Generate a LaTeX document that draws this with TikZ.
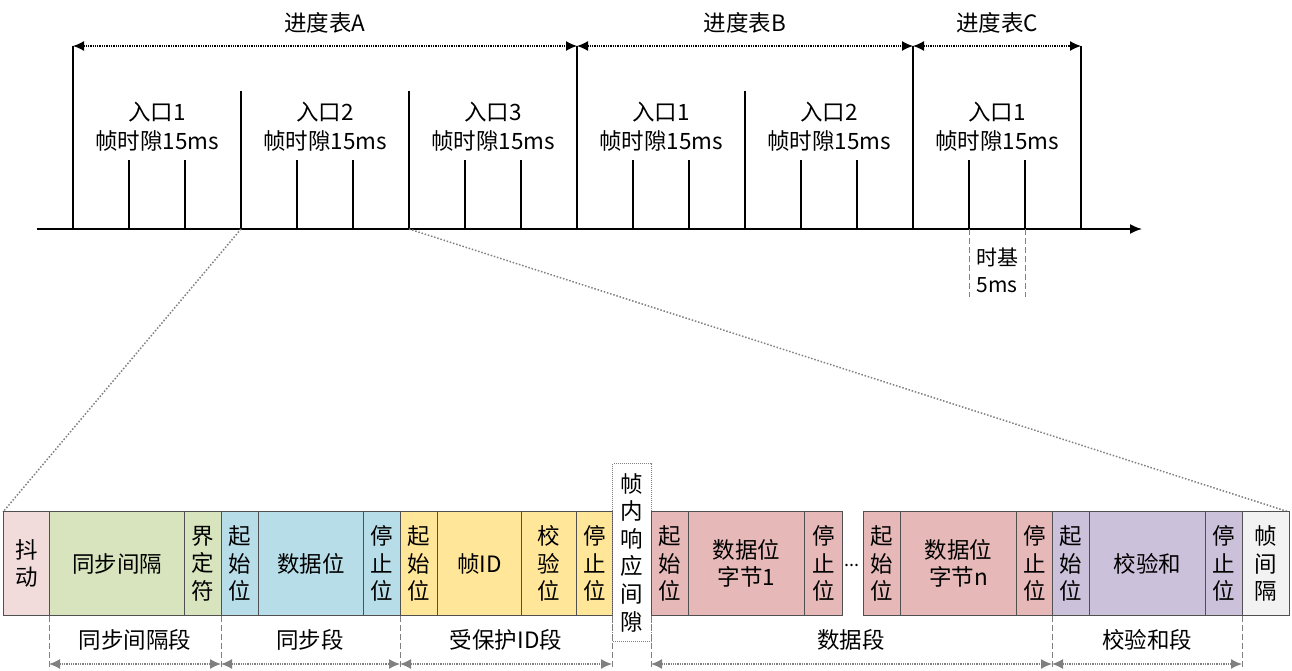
\documentclass[tikz,border=0pt]{standalone}
\usepackage{fontspec}
\setmainfont{Noto Sans CJK SC}
\usetikzlibrary{arrows.meta}
\definecolor{cpink}{HTML}{F2DCDB}
\definecolor{cgreen}{HTML}{D7E4BD}
\definecolor{cblue}{HTML}{B7DEE8}
\definecolor{cyellow}{HTML}{FFE699}
\definecolor{cred}{HTML}{E6B9B8}
\definecolor{cpurple}{HTML}{CCC1DA}
\definecolor{cgray}{HTML}{F2F2F2}
\definecolor{cborder}{HTML}{505050}
\definecolor{gline}{HTML}{808080}
\begin{document}
\begin{tikzpicture}[x=1pt,y=-1pt,
  txt/.style={font=\fontsize{22.5}{29}\selectfont, align=center, inner sep=0pt},
  cell/.style={draw=cborder, line width=1.2pt, minimum height=104pt, inner sep=0pt, anchor=west,
    font=\fontsize{22.5}{27.6}\selectfont, align=center},
  axisline/.style={line width=1.8pt, -{Latex[length=12pt,width=10pt]}},
  tick/.style={line width=1.5pt},
  toparrow/.style={line width=1.3pt, densely dotted, {Latex[length=11pt,width=10pt]}-{Latex[length=11pt,width=10pt]}},
  botarrow/.style={line width=1.3pt, gline, densely dotted, {Latex[length=11pt,width=10pt,fill=gline]}-{Latex[length=11pt,width=10pt,fill=gline]}},
  vdash/.style={gline, line width=1pt, dash pattern=on 6pt off 3pt},
  zoomline/.style={gline, line width=1.5pt, dash pattern=on 1.5pt off 1.8pt}
]
\useasboundingbox (0,0) rectangle (1292,671);

% ---------- top time line ----------
\coordinate (ax0) at (37,229);
\coordinate (ax1) at (1142,229);
\draw[axisline] (ax0) -- (ax1);

\foreach \k in {0,...,18}{
  \pgfmathtruncatemacro{\xx}{73+56*\k}
  \coordinate (b\k) at (\xx,229);
  \coordinate (ts\k) at (\xx,160);
  \coordinate (tm\k) at (\xx,91);
  \coordinate (tt\k) at (\xx,46);
}
\foreach \k in {1,2,4,5,7,8,10,11,13,14,16,17}{ \draw[tick] (b\k) -- (ts\k); }
\foreach \k in {3,6,12}{ \draw[tick] (b\k) -- (tm\k); }
\foreach \k in {0,9,15,18}{ \draw[tick] (b\k) -- (tt\k); }

\draw[toparrow] (tt0) -- (tt9);
\draw[toparrow] (tt9) -- (tt15);
\draw[toparrow] (tt15) -- (tt18);
\node[txt] (schA) at (325,23) {进度表A};
\node[txt] (schB) at (745,23) {进度表B};
\node[txt] (schC) at (997,23) {进度表C};

\node[txt] (s1) at (157,127) {入口1\\帧时隙15ms};
\node[txt] (s2) at (325,127) {入口2\\帧时隙15ms};
\node[txt] (s3) at (493,127) {入口3\\帧时隙15ms};
\node[txt] (s4) at (661,127) {入口1\\帧时隙15ms};
\node[txt] (s5) at (829,127) {入口2\\帧时隙15ms};
\node[txt] (s6) at (997,127) {入口1\\帧时隙15ms};

\coordinate (tb1) at (969,297);
\coordinate (tb2) at (1025,297);
\draw[vdash] (b16) -- (tb1);
\draw[vdash] (b17) -- (tb2);
\node[txt, font=\fontsize{21}{27}\selectfont] (tb) at (997,270) {时基\\5ms};

% ---------- zoom lines ----------
\coordinate (zl) at (3,512);
\coordinate (zr) at (1289,512);
\draw[zoomline] (b3) -- (zl);
\draw[zoomline] (b6) -- (zr);

% ---------- frame cells ----------
\node[cell, fill=cpink,   minimum width=46pt]  (c1)  at (3,563.5)   {抖\\动};
\node[cell, fill=cgreen,  minimum width=135pt] (c2)  at (49,563.5)  {同步间隔};
\node[cell, fill=cgreen,  minimum width=37pt]  (c3)  at (184,563.5) {界\\定\\符};
\node[cell, fill=cblue,   minimum width=37pt]  (c4)  at (221,563.5) {起\\始\\位};
\node[cell, fill=cblue,   minimum width=105pt] (c5)  at (258,563.5) {数据位};
\node[cell, fill=cblue,   minimum width=37pt]  (c6)  at (363,563.5) {停\\止\\位};
\node[cell, fill=cyellow, minimum width=37pt]  (c7)  at (400,563.5) {起\\始\\位};
\node[cell, fill=cyellow, minimum width=84pt]  (c8)  at (437,563.5) {帧ID};
\node[cell, fill=cyellow, minimum width=55pt]  (c9)  at (521,563.5) {校\\验\\位};
\node[cell, fill=cyellow, minimum width=36pt]  (c10) at (576,563.5) {停\\止\\位};
\node[draw=gline, densely dotted, line width=1pt, minimum width=39pt, minimum height=178pt,
      anchor=north west, inner sep=0pt, align=center, font=\fontsize{22.5}{27.6}\selectfont]
      (gap) at (612,463) {帧\\内\\响\\应\\间\\隙};
\node[cell, fill=cred,    minimum width=37pt]  (c11) at (651,563.5) {起\\始\\位};
\node[cell, fill=cred,    minimum width=116pt] (c12) at (688,563.5) {数据位\\字节1};
\node[cell, fill=cred,    minimum width=37.5pt](c13) at (804,563.5) {停\\止\\位};
\node[font=\fontsize{18}{20}\selectfont, inner sep=0pt] (dots) at (852,565) {...};
\node[cell, fill=cred,    minimum width=37pt]  (c14) at (862.5,563.5) {起\\始\\位};
\node[cell, fill=cred,    minimum width=116.5pt](c15) at (899.5,563.5) {数据位\\字节n};
\node[cell, fill=cred,    minimum width=36pt]  (c16) at (1016,563.5) {停\\止\\位};
\node[cell, fill=cpurple, minimum width=37pt]  (c17) at (1052,563.5) {起\\始\\位};
\node[cell, fill=cpurple, minimum width=116pt] (c18) at (1089,563.5) {校验和};
\node[cell, fill=cpurple, minimum width=37pt]  (c19) at (1205,563.5) {停\\止\\位};
\node[cell, fill=cgray,   minimum width=47pt]  (c20) at (1242,563.5) {帧\\间\\隔};

% ---------- segment markers ----------
\foreach \n/\xx in {d1/49,d2/221,d3/400,d4/612,d5/651,d6/1052,d7/1242}{
  \coordinate (\n t) at (\xx,616);
  \coordinate (\n b) at (\xx,668);
  \coordinate (\n a) at (\xx,664);
  \draw[vdash] (\n t) -- (\n b);
}
\draw[botarrow] (d1a) -- (d2a);
\draw[botarrow] (d2a) -- (d3a);
\draw[botarrow] (d3a) -- (d4a);
\draw[botarrow] (d5a) -- (d6a);
\draw[botarrow] (d6a) -- (d7a);

\node[txt] (g1) at (135,640) {同步间隔段};
\node[txt] (g2) at (310,640) {同步段};
\node[txt] (g3) at (506,640) {受保护ID段};
\node[txt] (g4) at (851,640) {数据段};
\node[txt] (g5) at (1147,640) {校验和段};
\end{tikzpicture}
\end{document}
